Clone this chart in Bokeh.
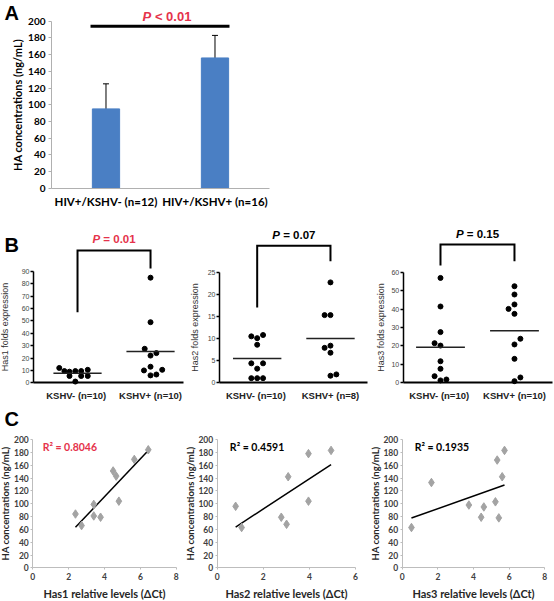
import numpy as np
from bokeh.plotting import figure
from bokeh.models import Range1d, ColumnDataSource, Whisker, TeeHead, Label, FixedTicker
from bokeh.layouts import column, row
from bokeh.embed import file_html
from bokeh.resources import INLINE

# ---------------- Panel A data ----------------
a_groups = ["HIV+/KSHV- (n=12)", "HIV+/KSHV+ (n=16)"]
a_mean = [95, 156]
a_err = [30, 27]
a_yticks = [0, 20, 40, 60, 80, 100, 120, 140, 160, 180, 200]
a_sig_y = 194
a_p_text = "< 0.01"

# ---------------- Panel B data ----------------
b_labels_1 = ["KSHV-  (n=10)", "KSHV+ (n=10)"]
b_labels_2 = ["KSHV-  (n=10)", "KSHV+ (n=8)"]
b_labels_3 = ["KSHV-  (n=10)", "KSHV+ (n=10)"]
b_titles = ["Has1 folds expression", "Has2 folds expression", "Has3 folds expression"]

has1_neg = [12.0, 9.5, 9.0, 9.5, 9.5, 10.5, 5.5, 5.5, 5.5, 1.0]
has1_neg_jitter = [-0.25, -0.18, -0.11, -0.03, 0.05, 0.14, -0.11, 0.05, 0.14, -0.03]
has1_pos = [85, 49, 27.5, 22, 24, 13, 10, 10.5, 6, 6.7]
has1_pos_jitter = [0, 0, -0.08, 0, 0.08, 0, -0.09, 0.16, 0, 0.08]

has2_neg = [10.5, 10.1, 10.8, 8.6, 4.4, 3.2, 4.4, 1.05, 1.05, 1.05]
has2_neg_jitter = [-0.08, 0, 0.08, 0, -0.08, 0, 0.08, -0.08, 0, 0.08]
has2_pos = [22.7, 15.3, 15.3, 7.9, 8.4, 6.8, 1.6, 1.9]
has2_pos_jitter = [0, -0.08, 0, -0.08, 0, 0, 0, 0.08]

has3_neg = [56.9, 41.4, 27.5, 21.5, 20.2, 11.7, 7.6, 3.6, 1.3, 1.8]
has3_neg_jitter = [0, 0, 0, -0.08, 0, 0, 0, -0.08, 0, 0.08]
has3_pos = [52.4, 47.9, 42.5, 40.1, 37.4, 23.9, 20.8, 13.0, 2.9, 0.9]
has3_pos_jitter = [0, 0, 0, -0.08, 0, 0.08, 0, 0, 0.08, 0]

b_p_text = ["= 0.01", "= 0.07", "= 0.15"]
b_p_y = [116, 33.5, 81]
# bracket: [left leg bottom, top, right leg bottom]
b_bracket_1 = [57, 107, 92.5]
b_bracket_2 = [17, 31, 27.5]
b_bracket_3 = [63.6, 75, 66]
b_yticks_1 = [0, 10, 20, 30, 40, 50, 60, 70, 80, 90]
b_yticks_2 = [0, 5, 10, 15, 20, 25]
b_yticks_3 = [0, 10, 20, 30, 40, 50, 60]

# ---------------- Panel C data ----------------
c1_x = [2.38, 2.72, 3.40, 3.40, 3.78, 4.48, 4.65, 4.80, 5.66, 6.44]
c1_y = [84, 66, 99, 81, 79, 151, 143, 104, 169, 184]
c2_x = [0.80, 1.06, 2.78, 3.01, 3.08, 3.96, 3.96, 4.94]
c2_y = [96, 63, 79, 68, 142, 178, 104, 183]
c3_x = [0.52, 1.64, 3.74, 4.43, 4.58, 5.23, 5.33, 5.42, 5.61, 5.74]
c3_y = [63, 133, 98, 79, 95, 103, 168, 78, 142, 183]
c_r2 = ["R\u00b2 = 0.8046", "R\u00b2 = 0.4591", "R\u00b2 = 0.1935"]
c_xtitles = ["Has1 relative levels (\u0394Ct)", "Has2 relative levels (\u0394Ct)", "Has3 relative levels (\u0394Ct)"]
c_yticks = [0, 20, 40, 60, 80, 100, 120, 140, 160, 180, 200]
c_xticks_8 = [0, 2, 4, 6, 8]
c_xticks_6 = [0, 2, 4, 6]

RED = "#e5334b"
ARIAL = "Liberation Sans"
CAL = "Lato"


def make_fig(w, h, xr, yr):
    p = figure(width=w, height=h, x_range=Range1d(*xr), y_range=Range1d(*yr),
               min_border=0, min_border_left=0, min_border_right=0,
               min_border_top=0, min_border_bottom=0,
               toolbar_location=None, output_backend="svg")
    p.outline_line_color = None
    p.xgrid.grid_line_color = None
    p.ygrid.grid_line_color = None
    p.xaxis.minor_tick_line_color = None
    p.yaxis.minor_tick_line_color = None
    p.background_fill_color = "white"
    p.border_fill_color = "white"
    p.xaxis.fixed_location = 0
    return p


def letter(p, txt, y_from_bottom):
    p.add_layout(Label(x=4, y=y_from_bottom, x_units="screen", y_units="screen", text=txt,
                       text_font=ARIAL, text_font_size="20px", text_font_style="bold",
                       text_color="black", text_align="left", text_baseline="middle"))


def p_label(p, x, y, rest, color, fs, p_right, rest_left):
    p.add_layout(Label(x=x, y=y, text="P", text_font=ARIAL, text_font_size=fs,
                       text_font_style="bold italic", text_color=color,
                       text_align="right", text_baseline="middle", x_offset=p_right))
    p.add_layout(Label(x=x, y=y, text=rest, text_font=ARIAL, text_font_size=fs,
                       text_font_style="bold", text_color=color,
                       text_align="left", text_baseline="middle", x_offset=rest_left))


# ================= Panel A =================
a_x = [i + 0.5 for i in range(len(a_groups))]
pA = make_fig(554, 225, (-0.4679, 4.615), (-44.67, 224.8))
srcA = ColumnDataSource(dict(x=a_x, top=a_mean,
                             upper=[m + e for m, e in zip(a_mean, a_err)],
                             lower=[m - e for m, e in zip(a_mean, a_err)]))
pA.vbar(x="x", top="top", width=0.25, source=srcA, fill_color="#4a7fc4", line_color="#4a7fc4")
pA.add_layout(Whisker(source=srcA, base="x", upper="upper", lower="lower", dimension="height",
                      line_color="black", line_width=1,
                      upper_head=TeeHead(size=6, line_color="black", line_width=1),
                      lower_head=TeeHead(size=6, line_color="black", line_width=1)))
pA.line([a_x[0] - 0.142, a_x[1] + 0.133], [a_sig_y, a_sig_y], line_color="black", line_width=3)
p_label(pA, float(np.mean(a_x)), 205.5, a_p_text, RED, "13px", -9.2, -5.6)
pA.yaxis.fixed_location = 0
pA.yaxis.bounds = (0, 200)
pA.yaxis.ticker = FixedTicker(ticks=a_yticks)
pA.yaxis.axis_label = "HA concentrations (ng/mL)"
pA.yaxis.axis_label_text_font = CAL
pA.yaxis.axis_label_text_font_size = "11px"
pA.yaxis.axis_label_text_font_style = "bold"
pA.yaxis.axis_label_text_color = "black"
pA.yaxis.axis_label_standoff = 1
pA.yaxis.major_label_text_font = CAL
pA.yaxis.major_label_text_font_size = "10px"
pA.yaxis.major_label_text_font_style = "bold"
pA.yaxis.major_label_text_color = "black"
pA.yaxis.major_label_standoff = 3
pA.yaxis.axis_line_color = "#b0b0b0"
pA.yaxis.major_tick_line_color = "#b0b0b0"
pA.yaxis.major_tick_out = 3
pA.yaxis.major_tick_in = 0
pA.xaxis.bounds = (0, 2)
pA.xaxis.ticker = FixedTicker(ticks=a_x)
pA.xaxis.major_label_overrides = {a_x[i]: a_groups[i] for i in range(len(a_groups))}
pA.xaxis.axis_line_color = "#b0b0b0"
pA.xaxis.major_tick_line_color = None
pA.xaxis.major_tick_out = 0
pA.xaxis.major_tick_in = 0
pA.xaxis.major_label_text_font = CAL
pA.xaxis.major_label_text_font_size = "11.5px"
pA.xaxis.major_label_text_font_style = "bold"
pA.xaxis.major_label_text_color = "black"
pA.xaxis.major_label_standoff = 7
letter(pA, "A", 225 - 12.5)


# ================= Panel B =================
def b_panel(width, xr, yr, yaxis_x, xaxis_end, yticks, labels, title, title_standoff,
            neg, neg_j, pos, pos_j, bracket, ptxt, py, pcolor):
    p = make_fig(width, 180, xr, yr)
    centers = [0, 1]
    xs = [centers[0] + j for j in neg_j] + [centers[1] + j for j in pos_j]
    ys = list(neg) + list(pos)
    p.scatter(xs, ys, size=5, marker="circle", fill_color="black", line_color="black")
    means = [float(np.mean(neg)), float(np.mean(pos))]
    p.segment(x0=[c - 0.33 for c in centers], x1=[c + 0.33 for c in centers], y0=means, y1=means,
              line_color="#222222", line_width=1.5)
    p.line([centers[0], centers[0], centers[1], centers[1]],
           [bracket[0], bracket[1], bracket[1], bracket[2]],
           line_color="black", line_width=2, line_join="miter")
    p_label(p, float(np.mean(centers)), py, ptxt, pcolor, "11.5px", -13.9, -10.7)
    p.yaxis.fixed_location = yaxis_x
    p.yaxis.bounds = (0, yticks[-1])
    p.yaxis.ticker = FixedTicker(ticks=yticks)
    p.yaxis.axis_label = title
    p.yaxis.axis_label_text_font = ARIAL
    p.yaxis.axis_label_text_font_size = "9px"
    p.yaxis.axis_label_text_font_style = "normal"
    p.yaxis.axis_label_text_color = "#333333"
    p.yaxis.axis_label_standoff = title_standoff
    p.yaxis.major_label_text_font = ARIAL
    p.yaxis.major_label_text_font_size = "7px"
    p.yaxis.major_label_text_color = "#444444"
    p.yaxis.major_label_standoff = 1
    p.yaxis.axis_line_color = "black"
    p.yaxis.axis_line_width = 1.5
    p.yaxis.major_tick_line_color = "black"
    p.yaxis.major_tick_line_width = 1.5
    p.yaxis.major_tick_out = 3
    p.yaxis.major_tick_in = 0
    p.xaxis.bounds = (yaxis_x, xaxis_end)
    p.xaxis.ticker = FixedTicker(ticks=centers)
    p.xaxis.major_label_overrides = {0: labels[0], 1: labels[1]}
    p.xaxis.axis_line_color = "black"
    p.xaxis.axis_line_width = 2
    p.xaxis.major_tick_line_color = None
    p.xaxis.major_tick_out = 0
    p.xaxis.major_tick_in = 0
    p.xaxis.major_label_text_font = ARIAL
    p.xaxis.major_label_text_font_size = "9.5px"
    p.xaxis.major_label_text_font_style = "bold"
    p.xaxis.major_label_text_color = "#222222"
    p.xaxis.major_label_standoff = 7
    return p


pB1 = b_panel(185, (-1.055, 1.479), (-18.36, 127.2), -0.603, 1.452, b_yticks_1, b_labels_1, b_titles[0], 9,
              has1_neg, has1_neg_jitter, has1_pos, has1_pos_jitter, b_bracket_1, b_p_text[0], b_p_y[0], RED)
pB2 = b_panel(185, (-0.978, 1.546), (-5.13, 35.56), -0.514, 1.505, b_yticks_2, b_labels_2, b_titles[1], 5,
              has2_neg, has2_neg_jitter, has2_pos, has2_pos_jitter, b_bracket_2, b_p_text[1], b_p_y[1], "black")
pB3 = b_panel(184, (-0.946, 1.541), (-12.31, 85.34), -0.504, 1.514, b_yticks_3, b_labels_3, b_titles[2], 3,
              has3_neg, has3_neg_jitter, has3_pos, has3_pos_jitter, b_bracket_3, b_p_text[2], b_p_y[2], "black")
letter(pB1, "B", 180 - 19)


# ================= Panel C =================
def c_panel(width, xr, xmax, xticks, xs, ys, r2, r2color, r2x, xtitle):
    p = make_fig(width, 196, xr, (-52.14, 252.9))
    slope, intercept = np.polyfit(xs, ys, 1)
    lx = [min(xs), max(xs)]
    p.line(lx, [slope * v + intercept for v in lx], line_color="black", line_width=1.5)
    p.scatter(xs, ys, marker="diamond", size=8.5, fill_color="#a3a3a3", line_color="#a3a3a3")
    p.add_layout(Label(x=r2x, y=188, text=r2, text_font=CAL, text_font_size="10.5px",
                       text_font_style="bold", text_color=r2color, text_align="left",
                       text_baseline="middle"))
    for ax in (p.xaxis, p.yaxis):
        ax.axis_line_color = "#bdbdbd"
        ax.major_tick_line_color = "#bdbdbd"
        ax.major_tick_out = 2
        ax.major_tick_in = 0
        ax.major_label_text_font = CAL
        ax.major_label_text_font_size = "8.5px"
        ax.major_label_text_font_style = "bold"
        ax.major_label_text_color = "#404040"
        ax.axis_label_text_font = CAL
        ax.axis_label_text_font_style = "bold"
        ax.axis_label_text_color = "#262626"
    p.yaxis.fixed_location = 0
    p.yaxis.bounds = (0, 200)
    p.xaxis.bounds = (0, xmax)
    p.yaxis.ticker = FixedTicker(ticks=c_yticks)
    p.xaxis.ticker = FixedTicker(ticks=xticks)
    p.yaxis.major_label_standoff = 2
    p.xaxis.major_label_standoff = 3
    p.yaxis.axis_label = "HA concentrations (ng/mL)"
    p.yaxis.axis_label_text_font_size = "9.5px"
    p.yaxis.axis_label_standoff = 0
    p.xaxis.axis_label = xtitle
    p.xaxis.axis_label_text_font_size = "11px"
    p.xaxis.axis_label_standoff = 4
    return p


pC1 = c_panel(180, (-1.801, 8.237), 8, c_xticks_8, c1_x, c1_y, c_r2[0], RED, 0.55, c_xtitles[0])
pC2 = c_panel(180, (-1.592, 6.217), 6, c_xticks_6, c2_x, c2_y, c_r2[1], "black", 0.55, c_xtitles[1])
pC3 = c_panel(194, (-2.339, 8.544), 8, c_xticks_8, c3_x, c3_y, c_r2[2], "black", 0.7, c_xtitles[2])
letter(pC1, "C", 196 - 13)

layout = column(pA, row(pB1, pB2, pB3), row(pC1, pC2, pC3))
open("out.html", "w").write(file_html(layout, INLINE))
